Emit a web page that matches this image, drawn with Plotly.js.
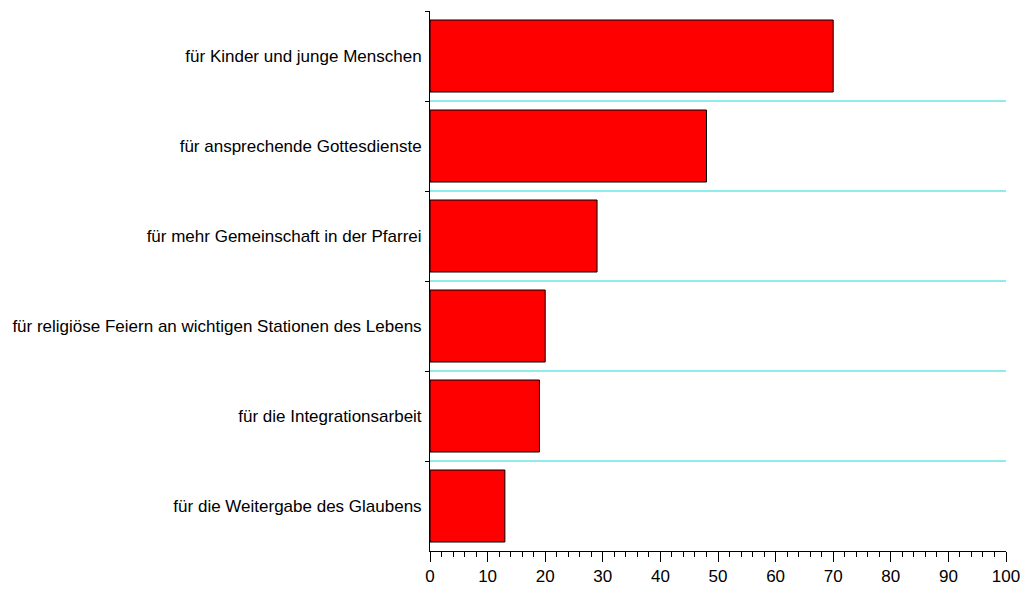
<!DOCTYPE html>
<html>
<head>
<meta charset="utf-8">
<script src="https://cdn.plot.ly/plotly-3.0.1.min.js"></script>
<style>html,body{margin:0;padding:0;background:#fff;}</style>
</head>
<body>
<div id="chart" style="width:1026px;height:591px;"></div>
<script>
const categories = [
  "für Kinder und junge Menschen",
  "für ansprechende Gottesdienste",
  "für mehr Gemeinschaft in der Pfarrei",
  "für religiöse Feiern an wichtigen Stationen des Lebens",
  "für die Integrationsarbeit",
  "für die Weitergabe des Glaubens"
];
const values = [70, 48, 29, 20, 19, 13];
const xTicks = [0, 10, 20, 30, 40, 50, 60, 70, 80, 90, 100];

const labelFont = {family: "Liberation Sans, Arial, sans-serif", size: 17, color: "#000"};
const tickFont = {family: "Liberation Sans Narrow, Arial Narrow, Liberation Sans, sans-serif", size: 17, color: "#000"};

const trace = {
  type: "bar",
  orientation: "h",
  x: values,
  y: categories,
  marker: {color: "#ff0000", line: {color: "#000", width: 1}},
  hoverinfo: "x+y"
};

// separator lines between category bands (between consecutive categories)
const gridShapes = categories.slice(1).map((c, i) => ({
  type: "line",
  xref: "paper", x0: 0, x1: 1,
  yref: "y", y0: i + 0.5, y1: i + 0.5,
  line: {color: "#22d8d8", width: 1.2},
  layer: "below"
}));

const layout = {
  width: 1026,
  height: 591,
  margin: {l: 430, r: 20, t: 11, b: 40},
  paper_bgcolor: "#fff",
  plot_bgcolor: "#fff",
  showlegend: false,
  bargap: 0.2,
  font: labelFont,
  shapes: gridShapes,
  xaxis: {
    range: [0, 100],
    tickmode: "array",
    tickvals: xTicks,
    ticktext: xTicks.map(String),
    ticks: "outside",
    ticklen: 10,
    tickwidth: 1,
    tickcolor: "#000",
    minor: {dtick: 2, tick0: 0, ticks: "outside", ticklen: 5, tickcolor: "#000", tickwidth: 1, showgrid: false},
    showline: true,
    linecolor: "#000",
    linewidth: 1,
    showgrid: false,
    zeroline: false,
    tickfont: tickFont,
    fixedrange: true
  },
  yaxis: {
    type: "category",
    categoryorder: "array",
    categoryarray: categories,
    autorange: "reversed",
    tickson: "boundaries",
    ticks: "outside",
    ticklen: 4,
    tickwidth: 1,
    tickcolor: "#000",
    showline: true,
    linecolor: "#000",
    linewidth: 1,
    showgrid: false,
    zeroline: false,
    tickfont: labelFont,
    ticklabelstandoff: 4,
    fixedrange: true
  }
};

Plotly.newPlot("chart", [trace], layout, {displayModeBar: false, staticPlot: true});
</script>
</body>
</html>
